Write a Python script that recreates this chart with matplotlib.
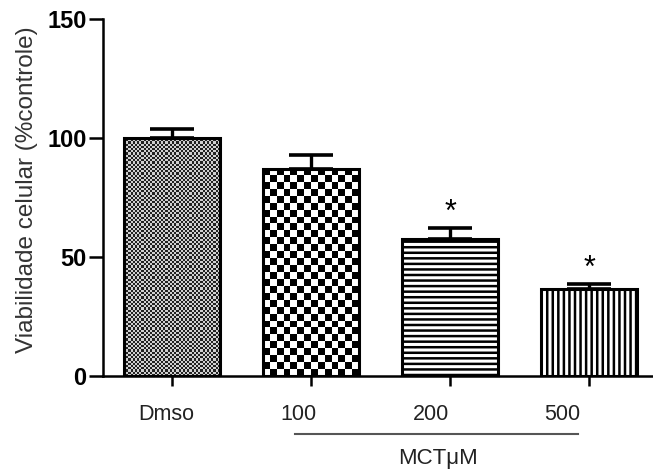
import matplotlib
matplotlib.use("Agg")
import matplotlib.pyplot as plt
import matplotlib.transforms as mtransforms
import numpy as np

# data
groups = ["Dmso", "100", "200", "500"]
means = [100, 87, 57.5, 36.5]
errors = [3.8, 6.0, 4.5, 2.0]
significant = [False, False, True, True]
ylabel = "Viabilidade celular (%controle)"
group_label = "MCTμM"

plt.rcParams["font.family"] = ["Liberation Sans", "DejaVu Sans"]
plt.rcParams["hatch.linewidth"] = 1.8

fig = plt.figure(figsize=(6.53, 4.75), dpi=100)
ax = fig.add_axes([0.158, 0.2084, 0.842, 0.7516])

x = np.arange(len(groups))
bars = ax.bar(x, means, width=0.69, color="none", edgecolor="black",
              linewidth=2.2, zorder=3)
ax.errorbar(x, means, yerr=[np.zeros(len(errors)), errors], fmt="none",
            ecolor="black", elinewidth=2.4, capsize=16, capthick=2.6, zorder=2)

ax.set_xlim(-0.496, 3.46)
ax.set_ylim(0, 150)
ax.set_yticks([0, 50, 100, 150])
ax.set_xticks(x)
ax.set_xticklabels([])
for lab in ax.get_yticklabels():
    lab.set_fontweight("bold")
    lab.set_fontsize(17)
ax.tick_params(axis="y", length=10, width=1.8, pad=2)
ax.tick_params(axis="x", length=7, width=1.8)
ax.spines["top"].set_visible(False)
ax.spines["right"].set_visible(False)
ax.spines["left"].set_linewidth(1.8)
ax.spines["bottom"].set_linewidth(1.8)
ax.set_ylabel(ylabel, fontsize=17.5, color="#333333")
ax.yaxis.set_label_coords(-0.118, 0.521)

# patterns: checkerboards drawn as images clipped to the bars, lines as hatches
fig.canvas.draw()
px_per_x = ax.transData.transform((1, 0))[0] - ax.transData.transform((0, 0))[0]
px_per_y = ax.transData.transform((0, 1))[1] - ax.transData.transform((0, 0))[1]


def checker(bar, cell_px, c1, c2):
    w, h = bar.get_width(), bar.get_height()
    nx = int(round(w * px_per_x / cell_px))
    ny = int(round(h * px_per_y / cell_px))
    grid = (np.add.outer(np.arange(ny), np.arange(nx)) % 2).astype(float)
    cmap = matplotlib.colors.ListedColormap([c1, c2])
    im = ax.imshow(grid, cmap=cmap, interpolation="nearest", aspect="auto",
                   extent=(bar.get_x(), bar.get_x() + w, 0, h), zorder=2.5)
    im.set_clip_path(bar)


checker(bars[0], 2.2, "#222222", "#d0d0d0")
checker(bars[1], 7.0, "black", "white")
bars[2].set_hatch("---")
bars[3].set_hatch("|||")
try:
    bars[3].set_hatchcolor("#555555")
except AttributeError:
    pass
ax.set_xlim(-0.496, 3.46)
ax.set_ylim(0, 150)

# significance marks
for xi, m, e, s in zip(x, means, errors, significant):
    if s:
        ax.annotate("*", (xi, m + e), xytext=(0, 11), textcoords="offset points",
                    ha="center", va="center", fontsize=22)

# x labels (pasted-in look, slightly left of ticks)
label_x = [-0.04, 0.91, 1.86, 2.81]
trans = mtransforms.blended_transform_factory(ax.transData, ax.transAxes)
for lx, g in zip(label_x, groups):
    ax.text(lx, -0.109, g, transform=trans, ha="center", va="center",
            fontsize=15.5, color="#222222")
ax.plot([0.885, 2.92], [-0.162, -0.162], transform=trans, color="#555555",
        linewidth=1.5, clip_on=False)
ax.text(1.91, -0.23, group_label, transform=trans, ha="center", va="center",
        fontsize=16, color="#222222")

fig.savefig("out.png", dpi=100, facecolor="white")
